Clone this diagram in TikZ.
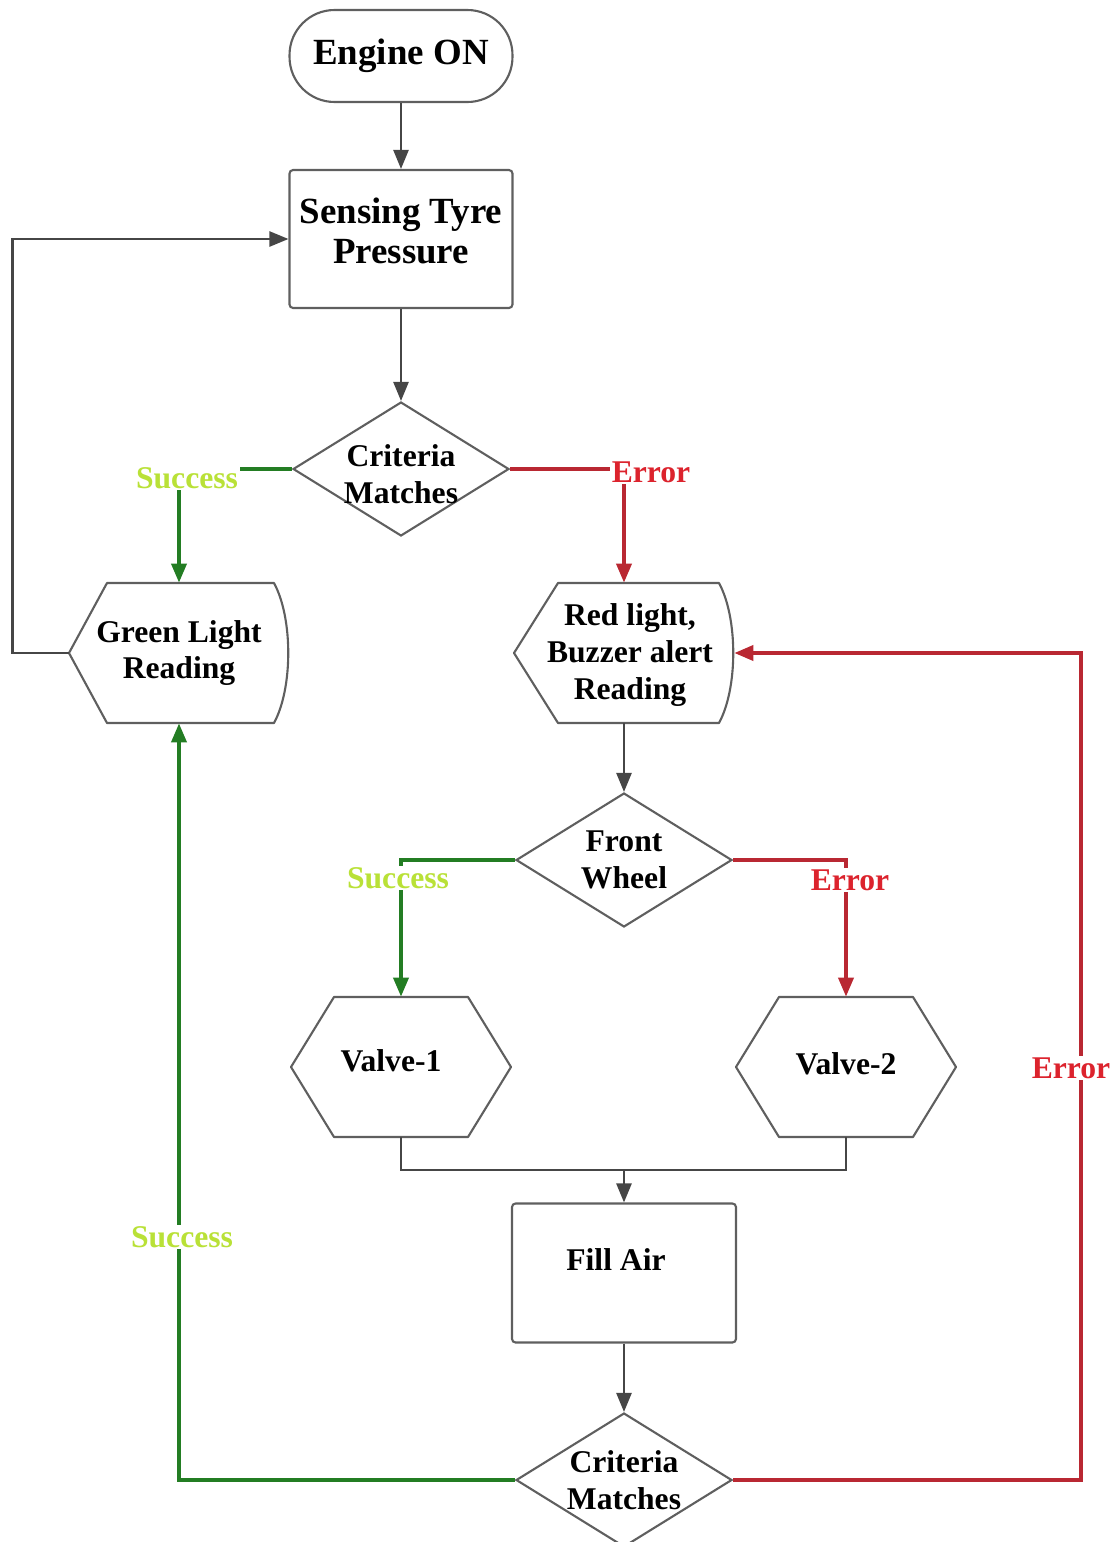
\documentclass[tikz,border=0pt]{standalone}
\usepackage{fontspec}
\setmainfont{Liberation Serif}
\usepackage{tikz}
\usetikzlibrary{shapes.geometric, arrows.meta, positioning}

\definecolor{boxgray}{RGB}{95,95,95}
\definecolor{linegray}{RGB}{70,70,70}
\definecolor{okline}{RGB}{35,125,35}
\definecolor{oktext}{RGB}{185,225,55}
\definecolor{errline}{RGB}{185,40,50}
\definecolor{errtext}{RGB}{220,35,45}

\begin{document}
\begin{tikzpicture}[
    x=0.02cm, y=-0.02cm,
    txt/.style = {font=\fontsize{18}{21}\selectfont\bfseries, align=center, inner sep=0pt},
    bigtxt/.style = {font=\fontsize{21}{23}\selectfont\bfseries, align=center, inner sep=0pt},
    startnode/.style = {rectangle, rounded corners=0.9cm, draw=boxgray, line width=1.2pt, minimum width=4.46cm, minimum height=1.84cm},
    procbox/.style = {rectangle, rounded corners=2pt, draw=boxgray, line width=1.2pt, minimum width=4.46cm, minimum height=2.76cm},
    decision/.style = {diamond, draw=boxgray, line width=1.2pt, minimum width=4.32cm, minimum height=2.68cm},
    blank/.style = {rectangle, minimum width=4.4cm, minimum height=2.8cm},
    outline/.style = {draw=boxgray, line width=1.2pt, line join=round},
    flow/.style = {-{Triangle[length=3.8mm, width=3mm]}, linegray, line width=1.4pt},
    okflow/.style = {flow, okline, line width=2.1pt},
    errflow/.style = {flow, errline, line width=2.1pt},
    oklabel/.style = {font=\fontsize{18}{21}\selectfont\bfseries, text=oktext, fill=white, inner sep=1pt},
    errlabel/.style = {font=\fontsize{18}{21}\selectfont\bfseries, text=errtext, fill=white, inner sep=1pt}
]

\useasboundingbox (0, 0) rectangle (1117, 1542);

\node [startnode, label={[bigtxt]center:Engine ON}] (eon) at (401, 56) {};
\node [procbox, label={[bigtxt, yshift=0.16cm]center:{Sensing Tyre\\Pressure}}] (stp) at (401, 239) {};
\node [decision, label={[txt, yshift=-0.1cm]center:{Criteria\\Matches}}] (d1) at (401, 469) {};

\node [blank, label={[txt]center:{Green Light\\Reading}}] (gl) at (179, 653) {};
\node [blank, label={[txt, xshift=0.12cm, yshift=-0.04cm]center:{Red light,\\Buzzer alert\\Reading}}] (rl) at (624, 653) {};

\node [decision, label={[txt]center:{Front\\Wheel}}] (fw) at (624, 860) {};

\node [blank, label={[txt, xshift=-0.2cm, yshift=0.12cm]center:Valve-1}] (v1) at (401, 1067) {};
\node [blank, label={[txt, yshift=0.06cm]center:Valve-2}] (v2) at (846, 1067) {};

\node [procbox, minimum width=4.48cm, minimum height=2.78cm, label={[txt, xshift=-0.16cm, yshift=0.26cm]center:Fill Air}] (fa) at (624, 1273) {};
\node [decision, label={[txt]center:{Criteria\\Matches}}] (d2) at (624, 1480) {};

% reading boxes and valves
\draw [outline, shift={(gl.center)}] (-110,0) -- (-72,-70) -- (95,-70) .. controls (114,-35) and (114,35) .. (95,70) -- (-72,70) -- cycle;
\draw [outline, shift={(rl.center)}] (-110,0) -- (-66,-70) -- (95,-70) .. controls (114,-35) and (114,35) .. (95,70) -- (-66,70) -- cycle;
\foreach \n in {v1, v2}
    \draw [outline, shift={(\n.center)}] (-110,0) -- (-67,-70) -- (67,-70) -- (110,0) -- (67,70) -- (-67,70) -- cycle;

\draw [flow] (eon) -- (stp);
\draw [flow] (stp) -- (d1);
\draw [okflow] (d1.west) -| (gl.north);
\draw [errflow] (d1.east) -| (rl.north);
\draw [flow] (gl.west) -- ++(-56, 0) |- (stp.west);

\draw [flow] (rl) -- (fw);
\draw [okflow] (fw.west) -| (v1.north);
\draw [errflow] (fw.east) -| (v2.north);

\coordinate (mrg) at (624, 1170);
\draw [linegray, line width=1.4pt] (v1.south) |- (mrg) -| (v2.south);
\draw [flow] (mrg) -- (fa);
\draw [flow] (fa) -- (d2);

\draw [okflow] (d2.west) -| (gl.south);
\draw [errflow] (d2.east) -- ++(348, 0) |- (rl.east);

\node [oklabel] (ok1) at (187, 478) {Success};
\node [errlabel] (er1) at (651, 472) {Error};
\node [oklabel] (ok2) at (398, 878) {Success};
\node [errlabel] (er2) at (850, 880) {Error};
\node [oklabel] (ok3) at (182, 1237) {Success};
\node [errlabel] (er3) at (1071, 1068) {Error};

\end{tikzpicture}
\end{document}
